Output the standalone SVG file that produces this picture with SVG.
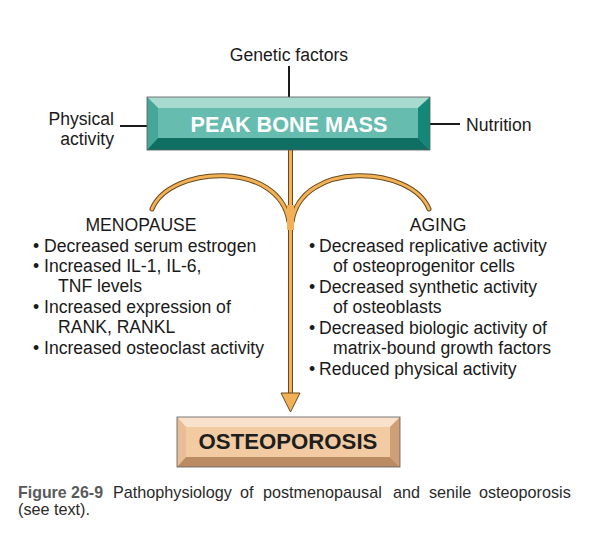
<svg xmlns="http://www.w3.org/2000/svg" width="606" height="552" viewBox="0 0 606 552">
<style>
text{font-family:"Liberation Sans",Arial,sans-serif;fill:#1a1a1a}
.t{font-size:17.6px}
.cap{font-size:16.2px;fill:#2a2a2a}
.thin{stroke:#1a1a1a;stroke-width:2;fill:none}
.edge{stroke:#5a5a5a;stroke-width:0.8}
</style>
<rect width="606" height="552" fill="#ffffff"/>
<g id="connectors">
  <line class="thin" x1="289" y1="66" x2="289" y2="97"/>
  <line class="thin" x1="120" y1="126" x2="147" y2="126"/>
  <line class="thin" x1="430" y1="124" x2="460" y2="124"/>
  <g fill="none" stroke-linecap="round">
    <path d="M152,209 C170,165 280,160 289,222" stroke="#6a4a1c" stroke-width="5"/>
    <path d="M429,209 C411,165 301,160 292,222" stroke="#6a4a1c" stroke-width="5"/>
    <line x1="290.5" y1="150" x2="290.5" y2="396" stroke="#6a4a1c" stroke-width="5"/>
    <path d="M152,209 C170,165 280,160 289,222" stroke="#f2b157" stroke-width="3"/>
    <path d="M429,209 C411,165 301,160 292,222" stroke="#f2b157" stroke-width="3"/>
    <line x1="290.5" y1="150" x2="290.5" y2="396" stroke="#f2b157" stroke-width="3"/>
  </g>
  <path d="M287,205 L294,205 L294,230 L287,230 Z" fill="#f2b157"/>
  <path d="M281,393 L300,393 L290.5,412 Z" fill="#f2b157" stroke="#6a4a1c" stroke-width="1" stroke-linejoin="round"/>
</g>
<g id="genetic"><text class="t" x="289" y="61" text-anchor="middle">Genetic factors</text></g>
<g id="physical"><text class="t" x="114" y="125" text-anchor="end">Physical</text><text class="t" x="114" y="145" text-anchor="end">activity</text></g>
<g id="nutrition"><text class="t" x="466" y="131">Nutrition</text></g>
<g id="peak">
  <rect x="147" y="97" width="283" height="53" fill="#66bcae"/>
  <polygon points="147,97 430,97 418,108 158,108" fill="#a8dad0"/>
  <polygon points="147,97 158,108 158,138 147,150" fill="#44a797"/>
  <polygon points="430,97 430,150 418,138 418,108" fill="#138878"/>
  <polygon points="147,150 158,138 418,138 430,150" fill="#0e6f62"/>
  <rect x="147" y="97" width="283" height="53" fill="none" class="edge"/>
  <text x="289" y="132" text-anchor="middle" font-size="21.6" font-weight="bold" style="fill:#ffffff">PEAK BONE MASS</text>
</g>
<g id="menopause">
  <text class="t" x="141" y="231" text-anchor="middle">MENOPAUSE</text>
  <text class="t" x="33" y="252">•</text><text class="t" x="44" y="252">Decreased serum estrogen</text>
  <text class="t" x="33" y="272">•</text><text class="t" x="44" y="272">Increased IL-1, IL-6,</text>
  <text class="t" x="58" y="292">TNF levels</text>
  <text class="t" x="33" y="313">•</text><text class="t" x="44" y="313">Increased expression of</text>
  <text class="t" x="58" y="333">RANK, RANKL</text>
  <text class="t" x="33" y="354">•</text><text class="t" x="44" y="354">Increased osteoclast activity</text>
</g>
<g id="aging">
  <text class="t" x="438" y="231" text-anchor="middle">AGING</text>
  <text class="t" x="309" y="252">•</text><text class="t" x="319" y="252">Decreased replicative activity</text>
  <text class="t" x="333" y="272">of osteoprogenitor cells</text>
  <text class="t" x="309" y="293">•</text><text class="t" x="319" y="293">Decreased synthetic activity</text>
  <text class="t" x="333" y="313">of osteoblasts</text>
  <text class="t" x="309" y="334">•</text><text class="t" x="319" y="334">Decreased biologic activity of</text>
  <text class="t" x="333" y="354">matrix-bound growth factors</text>
  <text class="t" x="309" y="375">•</text><text class="t" x="319" y="375">Reduced physical activity</text>
</g>
<g id="osteoporosis">
  <rect x="177" y="417" width="223" height="50" fill="#f2cba3"/>
  <polygon points="177,417 400,417 390,427 186,427" fill="#f9e2cb"/>
  <polygon points="177,417 186,427 186,457 177,467" fill="#e9bd95"/>
  <polygon points="400,417 400,467 390,457 390,427" fill="#cf9f76"/>
  <polygon points="177,467 186,457 390,457 400,467" fill="#bb8c64"/>
  <rect x="177" y="417" width="223" height="50" fill="none" class="edge"/>
  <text x="288" y="449" text-anchor="middle" font-size="22.2" font-weight="bold" style="fill:#1e1e1e">OSTEOPOROSIS</text>
</g>
<g id="caption">
  <text x="18" y="498" font-size="16.5" font-weight="bold" textLength="85" lengthAdjust="spacingAndGlyphs" style="fill:#5a5a5a">Figure 26-9</text>
  <text class="cap" x="113" y="498">Pathophysiology</text>
  <text class="cap" x="240" y="498">of</text>
  <text class="cap" x="263" y="498">postmenopausal</text>
  <text class="cap" x="393" y="498">and</text>
  <text class="cap" x="429" y="498">senile</text>
  <text class="cap" x="479" y="498">osteoporosis</text>
  <text class="cap" x="18" y="515">(see text).</text>
</g>
</svg>
